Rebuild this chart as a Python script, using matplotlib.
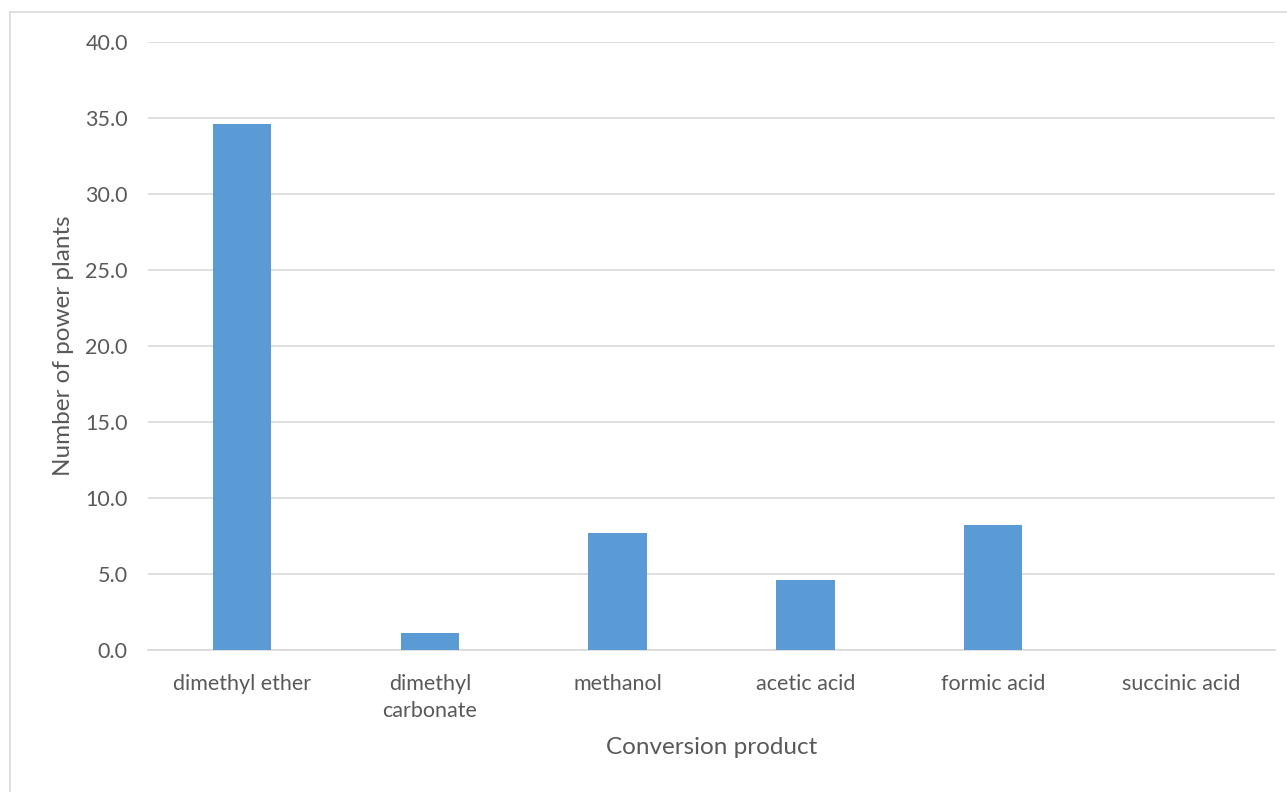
import matplotlib
matplotlib.use("Agg")
import matplotlib.pyplot as plt
from matplotlib.lines import Line2D

categories = ["dimethyl ether", "dimethyl\ncarbonate", "methanol", "acetic acid", "formic acid", "succinic acid"]
values = [34.6, 1.1, 7.7, 4.6, 8.2, 0.0]
yticks = [0, 5, 10, 15, 20, 25, 30, 35, 40]

plt.rcParams['font.family'] = ['Lato', 'DejaVu Sans']
W, H = 1287, 792
fig = plt.figure(figsize=(W / 100, H / 100), dpi=100)
ax = fig.add_axes([148 / W, 1 - 650 / H, (1275 - 148) / W, (650 - 41.5) / H])

x = range(len(categories))
ax.bar(x, values, width=0.31, color="#5B9BD5", zorder=3)
ax.set_xlim(-0.5, len(categories) - 0.5)
ax.set_ylim(0, 40)
ax.set_yticks(yticks)
ax.set_yticklabels([f"{v:.1f}" for v in yticks])
ax.set_xticks(list(x))
ax.set_xticklabels(categories, linespacing=1.45)
ax.yaxis.grid(True, color="#D9D9D9", linewidth=1.2, zorder=0)
for s in ax.spines.values():
    s.set_visible(False)
ax.spines['bottom'].set_visible(True)
ax.spines['bottom'].set_color("#D9D9D9")
ax.spines['bottom'].set_linewidth(1.2)
ax.tick_params(axis='both', length=0, colors="#595959", labelsize=15.5)
ax.tick_params(axis='y', pad=14.5)
ax.tick_params(axis='x', pad=17)
ax.set_ylabel("Number of power plants", fontsize=17.5, color="#595959", labelpad=8)
ax.set_xlabel("Conversion product", fontsize=17.5, color="#595959", labelpad=12)

# outer chart frame
fig.add_artist(Line2D([10 / W, 1.0], [1 - 12 / H, 1 - 12 / H], transform=fig.transFigure, color="#D9D9D9", linewidth=1.2))
fig.add_artist(Line2D([10 / W, 10 / W], [0, 1 - 12 / H], transform=fig.transFigure, color="#D9D9D9", linewidth=1.2))

fig.savefig("out.png", dpi=100, facecolor="white")
